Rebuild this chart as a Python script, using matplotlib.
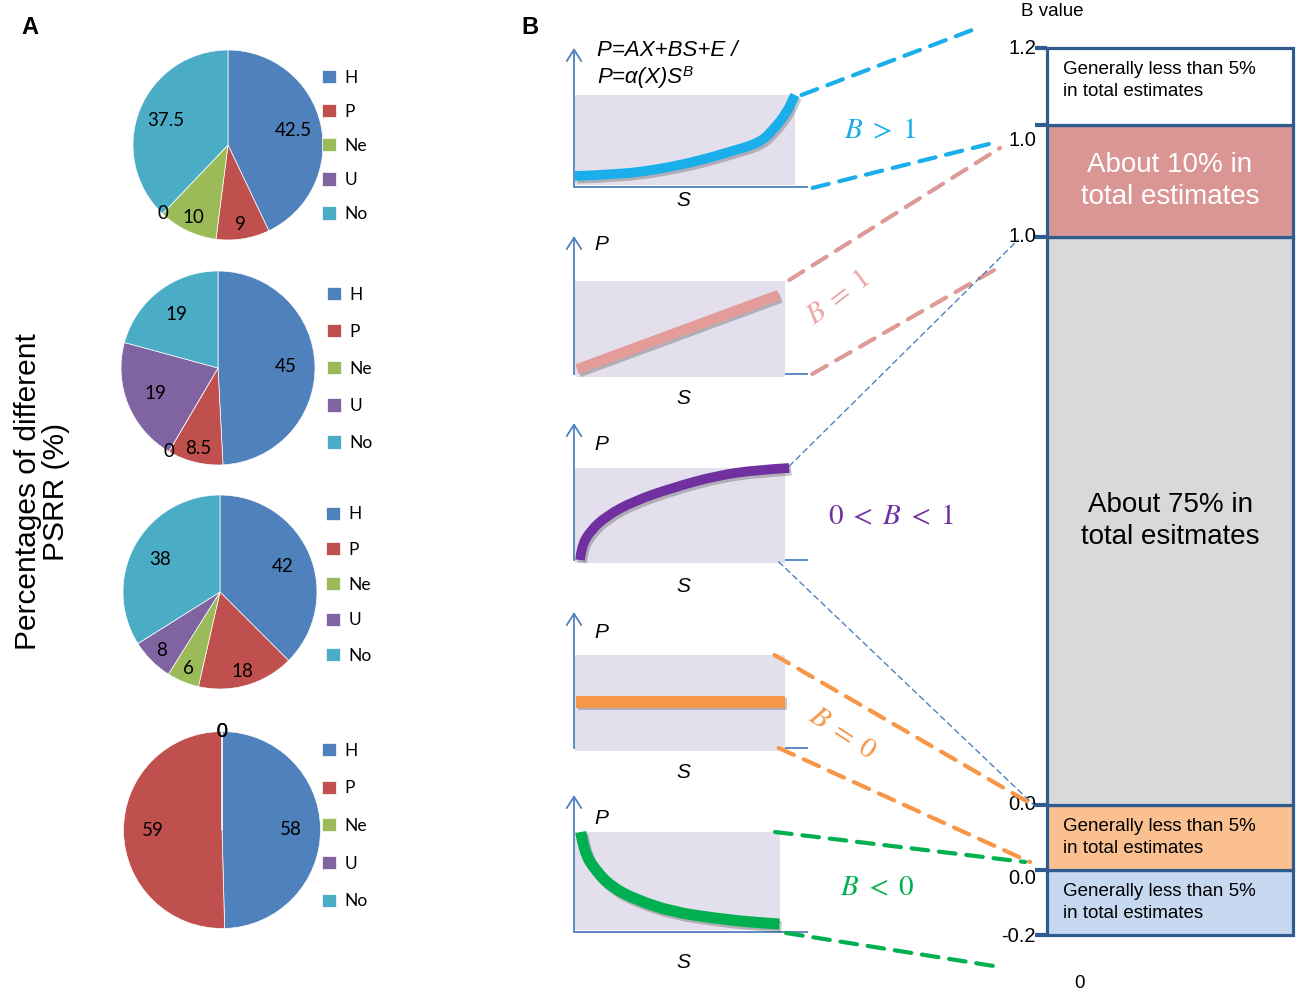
import numpy as np
import matplotlib
matplotlib.use('Agg')
import matplotlib.pyplot as plt
from matplotlib.patches import Rectangle, ConnectionPatch, PathPatch
from matplotlib.path import Path
from matplotlib.transforms import blended_transform_factory
import matplotlib.patheffects as pe

# ------------------------------------------------------------------ data
categories = ['H', 'P', 'Ne', 'U', 'No']
pie_colors = ['#4F81BD', '#C0504D', '#9BBB59', '#8064A2', '#4BACC6']
pie1 = [42.5, 9, 10, 0, 37.5]
pie2 = [45, 8.5, 0, 19, 19]
pie3 = [42, 18, 6, 8, 38]
pie4 = [58, 59, 0, 0, 0]

# schematic curves of panel B (arbitrary S / P units)
curve1_S = [0, 2, 4, 5.7, 7, 8.4, 9.0, 9.6, 9.9, 10.0]
curve1_P = [1.2, 1.35, 2.0, 2.9, 3.8, 4.8, 6.2, 8.0, 9.5, 10.0]
curve2_S = [0.1, 9.7]
curve2_P = [0.5, 8.5]
curve3_S = [0.24, 0.3, 0.7, 1.5, 2.8, 4.7, 6.8, 8.7, 10.2]
curve3_P = [0.0, 1.4, 3.1, 4.8, 6.4, 7.9, 9.2, 9.8, 10.0]
curve4_S = [0.05, 10.0]
curve4_P = [5.0, 5.0]
curve5_S = [0.28, 0.45, 0.98, 1.79, 3.0, 4.8, 6.75, 8.7, 9.97]
curve5_P = [10.0, 8.0, 6.2, 4.5, 3.2, 2.0, 1.4, 0.95, 0.8]
b_labels = [r'$B\;>\;1$', r'$B\;=\;1$', r'$0\;<\;B\;<\;1$', r'$B\;=\;0$', r'$B\;<\;0$']
curve_colors = ['#1AAEEB', '#E39C98', '#7030A0', '#F79646', '#00B050']

# B-value bar (segment heights, bottom to top, schematic)
bar_heights = [65, 65, 568, 112, 77]
bar_colors = ['#C6D9F1', '#FAC090', '#D9D9D9', '#D99694', '#FFFFFF']
bar_texts = ['Generally less than 5%\nin total estimates',
             'Generally less than 5%\nin total estimates',
             'About 75% in\ntotal esitmates',
             'About 10% in\ntotal estimates',
             'Generally less than 5%\nin total estimates']
boundary_labels = ['-0.2', '0.0', '0.0', '1.0', '1.0', '1.2']

# ------------------------------------------------------------------ figure
W, H = 1299, 994
fig = plt.figure(figsize=(W / 100, H / 100), dpi=100)
plt.rcParams['mathtext.fontset'] = 'custom'
plt.rcParams['mathtext.it'] = 'Liberation Sans:italic'
plt.rcParams['mathtext.rm'] = 'Liberation Sans'


def px_axes(l, t, r, b):
    return fig.add_axes([l / W, 1 - b / H, (r - l) / W, (b - t) / H])


def ftext(x, y, s, **kw):
    return fig.text(x / W, 1 - y / H, s, **kw)


def smooth_path(S, P):
    pts = np.column_stack([S, P]).astype(float)
    if len(pts) <= 2:
        return Path(pts)
    verts = [pts[0]]
    codes = [Path.MOVETO]
    for i in range(1, len(pts) - 1):
        end = (pts[i] + pts[i + 1]) / 2 if i < len(pts) - 2 else pts[i + 1]
        verts += [pts[i], end]
        codes += [Path.CURVE3, Path.CURVE3]
    return Path(verts, codes)


# ------------------------------------------------------------------ panel A
ftext(30, 27, 'A', fontsize=17, fontweight='bold', family='Liberation Sans',
      ha='center', va='center')
ftext(42, 492, 'Percentages of different\nPSRR (%)', rotation=90, fontsize=21.5,
      family='Liberation Sans', ha='center', va='center', multialignment='center',
      linespacing=0.98)

pies = [pie1, pie2, pie3, pie4]
pie_geom = [(228, 145, 95), (218, 368, 97), (220, 592, 97), (222, 830, 98.5)]
legend_geom = [(322, 146, 34), (327, 369, 37), (326, 585, 35.3), (322, 826, 37.7)]
fs = 13.5
lfs = 12.5
fpx = lfs * 100 / 72
for vals, (cx, cy, R), (lx, ly, sp) in zip(pies, pie_geom, legend_geom):
    ax = px_axes(cx - R, cy - R, cx + R, cy + R)
    wedges, _ = ax.pie(vals, colors=pie_colors, startangle=90, counterclock=False,
                       wedgeprops=dict(edgecolor='white', linewidth=0.5))
    ax.set_xlim(-1, 1)
    ax.set_ylim(-1, 1)
    ax.set_aspect('equal')
    ax.axis('off')
    total = float(sum(vals))
    for w, v in zip(wedges, vals):
        ang = np.deg2rad((w.theta1 + w.theta2) / 2)
        frac = v / total
        r = 1.0 if v == 0 else (0.85 if frac < 0.2 else 0.7)
        ax.text(r * np.cos(ang), r * np.sin(ang), f'{v:g}', ha='center', va='center',
                fontsize=fs, family='Lato', color='black')
    ax.legend(wedges, categories, loc='center left',
              bbox_to_anchor=(lx / W, 1 - ly / H), bbox_transform=fig.transFigure,
              frameon=False, borderpad=0, borderaxespad=0, handlelength=0.78,
              handleheight=0.78, handletextpad=0.5, labelspacing=sp / fpx - 0.92,
              prop={'family': 'Lato', 'size': lfs})

# ------------------------------------------------------------------ panel B
ftext(530, 27, 'B', fontsize=17, fontweight='bold', family='Liberation Sans',
      ha='center', va='center')

axis_col = '#4F81BD'
rect_col = '#E4DFEC'
curves = [(curve1_S, curve1_P), (curve2_S, curve2_P), (curve3_S, curve3_P),
          (curve4_S, curve4_P), (curve5_S, curve5_P)]
# layout: (x px of S=0, px per S unit, y px of P=0, px per P unit, arrow top px)
mini_geom = [(575, 22, 187, 9.2, 48), (575, 21, 374, 9.3, 236),
             (575, 21, 560, 9.2, 423), (575, 21, 748, 9.3, 612),
             (575, 20.5, 932, 10.0, 795)]
rect_bottom = [0.2, -0.3, -0.3, -0.3, 0.2]
curve_lw = [7, 7.5, 7, 8.5, 8]
mini_axes = []
for (S, P), (x0, sx, y0, sy, top), rb, col, lw in zip(curves, mini_geom, rect_bottom,
                                                      curve_colors, curve_lw):
    l, r, t, b = 560, 820, top - 12, y0 + 12
    ax = px_axes(l, t, r, b)
    ax.set_xlim((l - x0) / sx, (r - x0) / sx)
    ax.set_ylim((y0 - b) / sy, (y0 - t) / sy)
    ax.axis('off')
    s_axis = -1.0 / sx
    s_end = (808 - x0) / sx
    ax.plot([s_axis, s_end], [0, 0], color=axis_col, lw=1.3, zorder=0,
            solid_capstyle='butt')
    ax.add_patch(Rectangle((0, rb), 10, 10 - rb, facecolor=rect_col, edgecolor='none',
                           zorder=1))
    ax.annotate('', xy=(s_axis, (y0 - top) / sy), xytext=(s_axis, 0),
                arrowprops=dict(arrowstyle='->,head_length=0.55,head_width=0.35',
                                color=axis_col, lw=1.3, shrinkA=0, shrinkB=0,
                                mutation_scale=15), zorder=2)
    patch = PathPatch(smooth_path(S, P), fill=False, edgecolor=col, lw=lw,
                      capstyle='butt', joinstyle='round', zorder=3,
                      path_effects=[pe.SimpleLineShadow(offset=(1.5, -2), alpha=0.22),
                                    pe.Normal()])
    ax.add_patch(patch)
    mini_axes.append(ax)

# axis letters
for y in [244, 445, 632, 818]:
    ftext(601, y, 'P', fontsize=15, style='italic', family='Liberation Sans',
          ha='center', va='center')
for y in [200, 398, 586, 772, 963]:
    ftext(683, y, 'S', fontsize=15, style='italic', family='Liberation Sans',
          ha='center', va='center')
ftext(597, 50, 'P=AX+BS+E /', fontsize=16, style='italic', family='Liberation Sans',
      ha='left', va='center')
t2 = ftext(597, 78, 'P=α(X)S', fontsize=16, style='italic', family='Liberation Sans',
           ha='left', va='center')
fig.axes[-1].annotate('B', xy=(1.0, 0.78), xycoords=t2, fontsize=11, style='italic',
                      family='Liberation Sans', ha='left', va='center')

# B labels
blab_geom = [(880, 130, 0), (838, 297, 37), (891, 516, 0), (842, 733, -33),
             (877, 887, 0)]
blab_colors = ['#1AAEEB', '#E8A8A4', '#7030A0', '#F79646', '#00B050']
for s, (x, y, rot), c in zip(b_labels, blab_geom, blab_colors):
    ftext(x, y, s, fontsize=21, color=c, rotation=rot, ha='center', va='center',
          math_fontfamily='stix', rotation_mode='anchor')

# bar of B values
dark = '#2E5C8E'
bax = px_axes(1047, 48, 1293, 935)
bottoms = np.concatenate([[0], np.cumsum(bar_heights)[:-1]])
bounds = np.concatenate([[0], np.cumsum(bar_heights)])
bax.bar(0, bar_heights, bottom=bottoms, width=1, color=bar_colors, edgecolor=dark,
        linewidth=2.3, clip_on=False, zorder=2)
bax.set_xlim(-0.5, 0.5)
bax.set_ylim(0, bounds[-1])
for sp_ in bax.spines.values():
    sp_.set_visible(False)
bax.set_xticks([])
bax.set_yticks(bounds)
bax.tick_params(axis='y', length=9, width=3, color=dark, labelleft=False)
btr = blended_transform_factory(bax.transAxes, bax.transData)
label_offsets = [-1, -8, 0, 0, -15, 0]
for yb, lbl, off in zip(bounds, boundary_labels, label_offsets):
    bax.text(-0.045, yb + off, lbl, transform=btr, ha='right', va='center',
             fontsize=14.5, family='Liberation Sans', color='black')
text_shift = [0, 0, 0, 0, 6]
for yb, h, txt, i in zip(bottoms, bar_heights, bar_texts, range(5)):
    yc = yb + h / 2 + text_shift[i]
    if i in (2, 3):
        bax.text(0.5, yc, txt, transform=btr, ha='center', va='center', fontsize=20,
                 family='Liberation Sans', color='white' if i == 3 else 'black',
                 linespacing=1.3, zorder=5)
    else:
        bax.text(0.066, yc, txt, transform=btr, ha='left', va='center', fontsize=13.5,
                 family='Liberation Sans', color='black', linespacing=1.45, zorder=5)
bax.text(0.02, bounds[-1] + 36, 'B value', transform=btr, ha='center', va='center',
         fontsize=13.5, family='Liberation Sans')
bax.text(0.134, -48, '0', transform=btr, ha='center', va='center', fontsize=13.5,
         family='Liberation Sans')

# dashed connectors: (mini axis index, (S, P) start, (bar x-fraction, bar y) end, style)
connectors = [
    (0, (10.3, 10.0), (-0.272, 908), 'thick'),
    (0, (10.8, -0.1), (-0.203, 793), 'thick'),
    (1, (10.2, 10.1), (-0.191, 787), 'thick'),
    (1, (11.3, 0.0), (-0.179, 670), 'thick'),
    (2, (10.2, 10.2), (-0.118, 695), 'thin'),
    (2, (9.7, -0.2), (-0.049, 129), 'thin'),
    (3, (9.5, 10.0), (-0.049, 129), 'thick'),
    (3, (9.7, 0.0), (-0.069, 73), 'thick'),
    (4, (9.76, 10.0), (-0.089, 73), 'thick'),
    (4, (10.3, -0.1), (-0.191, -32), 'thick'),
]
dash_colors = ['#1AAEEB', '#1AAEEB', '#DE9A96', '#DE9A96', axis_col, axis_col,
               '#F79646', '#F79646', '#00B050', '#00B050']
for (i, a, bpt, style), c in zip(connectors, dash_colors):
    if style == 'thick':
        lw, ls = 3, (0, (4, 2.6))
    else:
        lw, ls = 1, (0, (4, 3))
    cp = ConnectionPatch(xyA=a, coordsA=mini_axes[i].transData, xyB=bpt, coordsB=btr,
                         color=c, lw=lw, linestyle=ls, zorder=1)
    fig.add_artist(cp)

fig.savefig('out.png', dpi=100)
